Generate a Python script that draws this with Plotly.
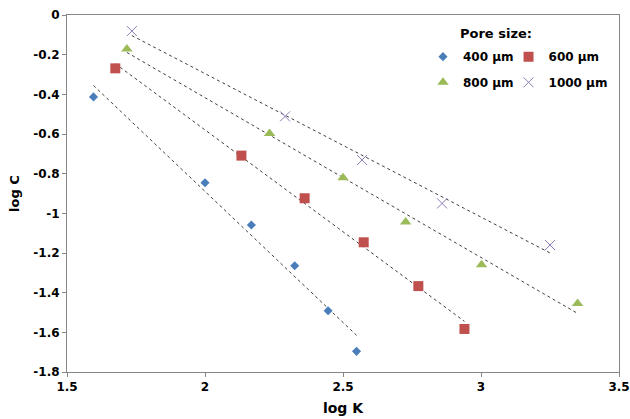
import numpy as np
import plotly.graph_objects as go

# ---- data ----
x400 = [1.596, 2.000, 2.168, 2.325, 2.446, 2.549]
y400 = [-0.413, -0.846, -1.059, -1.264, -1.491, -1.696]

x600 = [1.675, 2.132, 2.361, 2.575, 2.773, 2.940]
y600 = [-0.269, -0.709, -0.924, -1.146, -1.367, -1.583]

x800 = [1.717, 2.234, 2.500, 2.727, 3.002, 3.350]
y800 = [-0.171, -0.597, -0.820, -1.044, -1.259, -1.454]

x1000 = [1.735, 2.290, 2.569, 2.859, 3.250]
y1000 = [-0.081, -0.511, -0.731, -0.950, -1.160]

series_names = ["400 µm", "600 µm", "800 µm", "1000 µm"]
x_ticks = [1.5, 2, 2.5, 3, 3.5]
x_tick_text = ["1.5", "2", "2.5", "3", "3.5"]
y_ticks = [0, -0.2, -0.4, -0.6, -0.8, -1, -1.2, -1.4, -1.6, -1.8]
y_tick_text = ["0", "-0.2", "-0.4", "-0.6", "-0.8", "-1", "-1.2", "-1.4", "-1.6", "-1.8"]

FONT = "DejaVu Sans"
fig = go.Figure()

series = [
    (x400, y400, dict(symbol="diamond", size=7, color="#4A7EBB"), "legend"),
    (x600, y600, dict(symbol="square", size=10, color="#C0504D"), "legend"),
    (x800, y800, dict(symbol="triangle-up", size=10, color="#9BBB59"), "legend2"),
    (x1000, y1000, dict(symbol="x-thin-open", size=10, color="#8C7CB8",
                        line=dict(width=1, color="#8C7CB8")), "legend2"),
]

# trend lines (least-squares fit over each series' x range)
for xs, ys, _, _ in series:
    xa = np.array(xs)
    k, b = np.polyfit(xa, np.array(ys), 1)
    xl = np.array([xa.min(), xa.max()])
    fig.add_trace(go.Scatter(x=xl, y=k * xl + b, mode="lines",
                             line=dict(color="#404040", width=1, dash="dot"),
                             showlegend=False, hoverinfo="skip"))

for (xs, ys, mk, lg), name in zip(series, series_names):
    fig.add_trace(go.Scatter(x=xs, y=ys, mode="markers", name="<b>" + name + "</b>",
                             marker=mk, legend=lg))

axis_common = dict(showgrid=False, zeroline=False, showline=True, linecolor="#868686",
                   linewidth=1, mirror=True, ticks="outside", ticklen=4,
                   tickcolor="#868686", automargin=False,
                   tickfont=dict(family=FONT, size=12, color="#000000"))

fig.update_layout(
    width=630, height=419,
    margin=dict(l=67, r=11, t=15, b=47),
    plot_bgcolor="white", paper_bgcolor="white",
    font=dict(family=FONT, color="#000000"),
    xaxis=dict(range=[1.5, 3.5], tickvals=x_ticks,
               ticktext=["<b>" + t + "</b>" for t in x_tick_text],
               title=dict(text="<b>log K</b>", font=dict(family=FONT, size=14), standoff=9),
               **axis_common),
    yaxis=dict(range=[-1.8, 0], tickvals=y_ticks,
               ticktext=["<b>" + t + "</b>" for t in y_tick_text],
               title=dict(text="<b>log C</b>", font=dict(family=FONT, size=13), standoff=10),
               **axis_common),
    legend=dict(orientation="h", x=0.663, y=0.924, xanchor="left", yanchor="top",
                indentation=-10, bgcolor="rgba(0,0,0,0)",
                font=dict(family=FONT, size=12)),
    legend2=dict(orientation="h", x=0.663, y=0.852, xanchor="left", yanchor="top",
                 indentation=-10, bgcolor="rgba(0,0,0,0)",
                 font=dict(family=FONT, size=12)),
    annotations=[dict(text="<b>Pore size:</b>", xref="paper", yref="paper",
                      x=(458 - 67) / 552, y=(372 - 33) / 357, xanchor="left",
                      yanchor="middle", showarrow=False,
                      font=dict(family=FONT, size=13, color="#000000"))],
)

fig.write_html(
    "out.html",
    config={"displayModeBar": False},
    post_script=("document.documentElement.style.margin='0px';"
                 "document.documentElement.style.overflow='hidden';"
                 "document.body.style.margin='0px';"
                 "document.body.style.overflow='hidden';"),
)
